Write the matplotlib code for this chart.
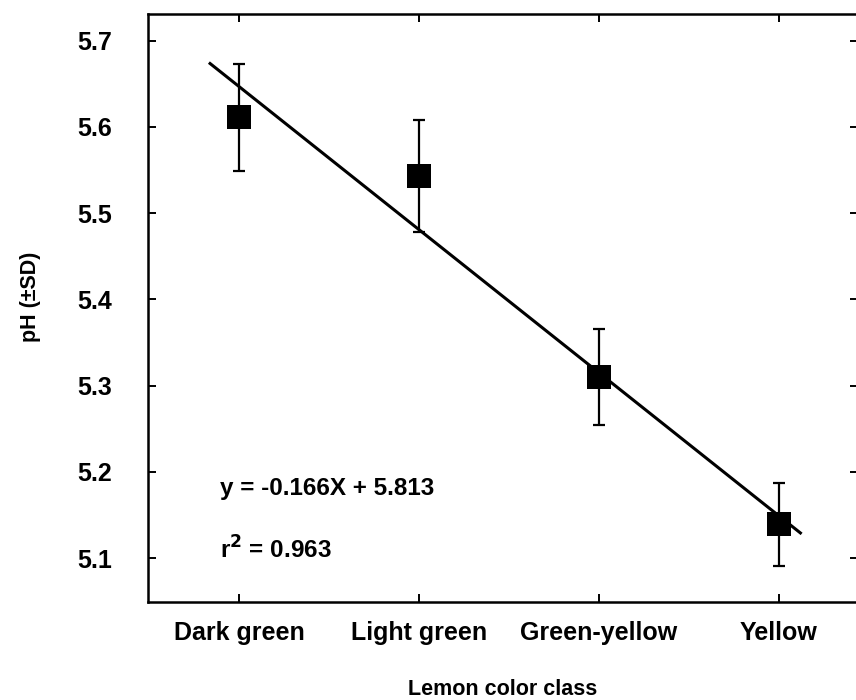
import matplotlib
matplotlib.use("Agg")
import matplotlib.pyplot as plt

plt.rcParams['font.family'] = ['Liberation Sans', 'DejaVu Sans']
plt.rcParams['font.weight'] = 'bold'

# data
classes = ["Dark green", "Light green", "Green-yellow", "Yellow"]
xpos = [1, 2, 3, 4]
ph_mean = [5.611, 5.543, 5.310, 5.139]
ph_sd = [0.062, 0.065, 0.056, 0.048]

# regression reported on the chart
slope = -0.166
intercept = 5.813
r2 = 0.963
fit_x = [0.84, 4.12]

fig = plt.figure(figsize=(8.56, 7.0), dpi=100)
ax = fig.add_axes([148/856, 1 - 602/700, 710/856, 588/700])

fit_y = [slope*x + intercept for x in fit_x]
ax.plot(fit_x, fit_y, color='black', lw=2.2, zorder=2)

ax.errorbar(xpos, ph_mean, yerr=ph_sd, fmt='none', ecolor='black',
            elinewidth=1.6, capsize=4, capthick=1.6, zorder=3)
ax.plot(xpos, ph_mean, 's', color='black', markersize=17, markeredgewidth=0, zorder=4)

ax.text(0.894, 5.181, "y = %.3fX + %.3f" % (slope, intercept),
        fontsize=17.5, fontweight='bold', va='center', ha='left')
ax.text(0.894, 5.109, r"r$^{\mathbf{2}}$ = %.3f" % r2,
        fontsize=17.5, fontweight='bold', va='center', ha='left')

ax.set_xlim(0.495, 4.44)
ax.set_ylim(5.049, 5.731)
ax.set_xticks(xpos)
ax.set_xticklabels(classes)
ax.set_yticks([5.1, 5.2, 5.3, 5.4, 5.5, 5.6, 5.7])
ax.set_yticklabels(["5.1", "5.2", "5.3", "5.4", "5.5", "5.6", "5.7"])
ax.tick_params(direction='in', length=6, width=1.4, labelsize=18,
               top=True, right=True)
ax.tick_params(axis='y', pad=26)
ax.tick_params(axis='x', pad=14)
for lab in ax.get_xticklabels() + ax.get_yticklabels():
    lab.set_fontweight('bold')
for sp in ax.spines.values():
    sp.set_linewidth(1.8)

ax.set_xlabel("Lemon color class", fontsize=15.5, fontweight='bold', labelpad=24)
ax.set_ylabel("pH (\u00b1SD)", fontsize=15.5, fontweight='bold')
ax.yaxis.set_label_coords(-0.151, 0.519)

fig.savefig("out.png", dpi=100)
